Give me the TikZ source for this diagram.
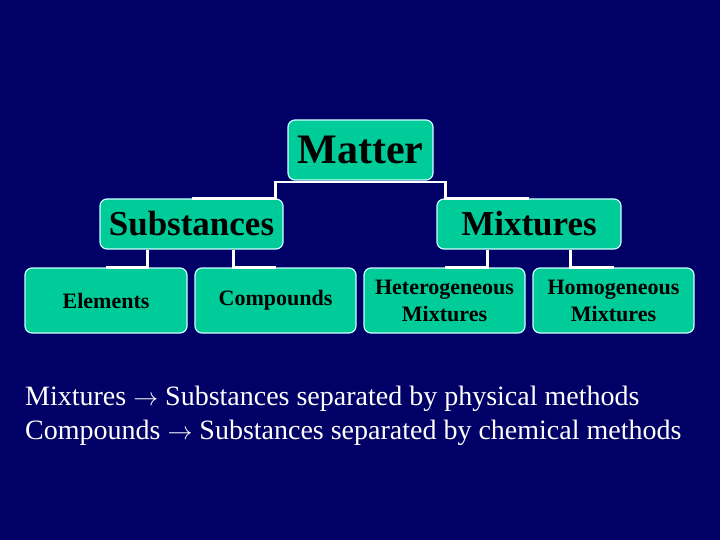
\documentclass[tikz,border=0pt]{standalone}
\usepackage{fontspec}
\setmainfont{Liberation Serif}
\usetikzlibrary{calc}
\definecolor{navy}{HTML}{000066}
\definecolor{teal}{HTML}{00CC99}
\definecolor{edge}{HTML}{CCFFFF}
\tikzset{
  box/.style={draw=edge, line width=1.2pt, fill=teal, rounded corners=7pt, inner sep=0pt, text=black, font=\bfseries},
  conn/.style={draw=white, line width=2.6pt},
  note/.style={anchor=base west, text=white, inner sep=0pt, font=\fontsize{28}{32}\selectfont}
}
\newcommand{\myarr}{ $\rightarrow$ }
\begin{document}
\begin{tikzpicture}[x=1pt,y=-1pt]
\fill[navy] (0,0) rectangle (720,540);
\useasboundingbox (0,0) rectangle (720,540);
\coordinate (mL) at (275.5,182);
\coordinate (mR) at (445.5,182);
\node[box, minimum width=145pt, minimum height=60pt, font=\bfseries\fontsize{42}{48}\selectfont] (matter) at (360.5,150) {Matter};
\node[box, minimum width=183pt, minimum height=50pt, font=\bfseries\fontsize{35}{40}\selectfont] (subs) at (191.5,224) {Substances};
\node[box, minimum width=184pt, minimum height=50pt, font=\bfseries\fontsize{35}{40}\selectfont] (mix) at (529,224) {Mixtures};
\node[box, minimum width=162pt, minimum height=65pt, font=\bfseries\fontsize{22}{27}\selectfont] (elem) at (106,300.5) {Elements};
\node[box, minimum width=161pt, minimum height=65pt, font=\bfseries\fontsize{22}{27}\selectfont] (comp) at (275.5,300.5) {Compounds};
\node[box, minimum width=161pt, minimum height=65pt, align=center, font=\bfseries\fontsize{22}{27}\selectfont] (het) at (444.5,300.5) {Heterogeneous\\Mixtures};
\node[box, minimum width=161pt, minimum height=65pt, align=center, font=\bfseries\fontsize{22}{27}\selectfont] (hom) at (613.5,300.5) {Homogeneous\\Mixtures};
% connectors
\draw[conn] (subs.north) -| (mL) -- (mR) |- (mix.north);
\draw[conn] ($(subs.south west)+(48,0)$) |- (elem.north);
\draw[conn] ($(subs.south west)+(134,0)$) |- (comp.north);
\draw[conn] ($(mix.south west)+(51,0)$) |- (het.north);
\draw[conn] ($(mix.south west)+(134,0)$) |- (hom.north);
% notes
\node[note] (n1) at (25,405) {Mixtures\myarr Substances separated by physical methods};
\node[note] (n2) at (25,439) {Compounds\myarr Substances separated by chemical methods};
\end{tikzpicture}
\end{document}
